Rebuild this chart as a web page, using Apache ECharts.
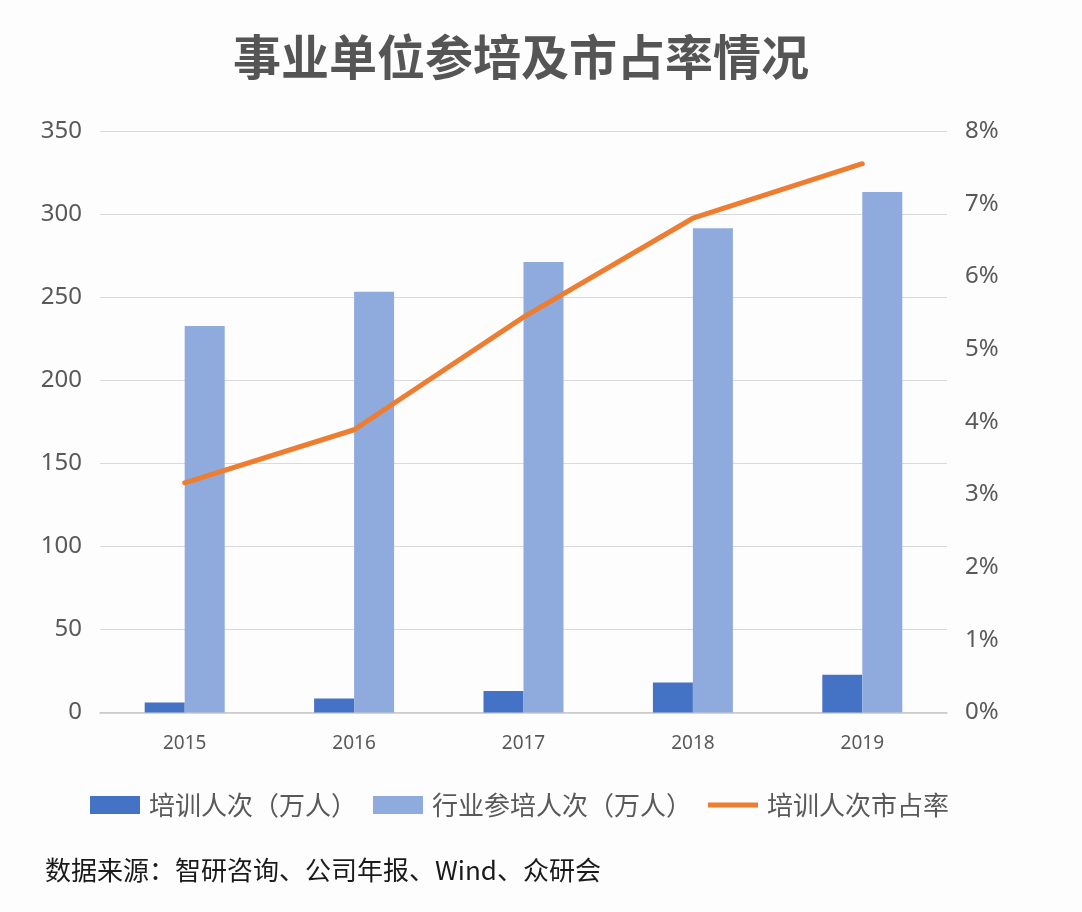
<!DOCTYPE html>
<html>
<head>
<meta charset="utf-8">
<script src="https://cdn.jsdelivr.net/npm/echarts@6/dist/echarts.min.js"></script>
<style>
  html, body { margin: 0; padding: 0; background: #fdfdfe; }
  #chart { width: 1082px; height: 912px; }
</style>
</head>
<body>
<div id="chart"></div>
<script>
const categories = ['2015', '2016', '2017', '2018', '2019'];
const trainees = [6.0, 8.4, 13.0, 18.0, 22.7];
const industryTrainees = [232.7, 253.3, 271.2, 291.5, 313.3];
const marketShare = [3.16, 3.89, 5.44, 6.80, 7.55];
const leftTicks = { min: 0, max: 350, interval: 50 };
const rightTicks = { min: 0, max: 8, interval: 1 };

const titleText = '事业单位参培及市占率情况';
const sourceText = '数据来源：智研咨询、公司年报、Wind、众研会';
const seriesNames = ['培训人次（万人）', '行业参培人次（万人）', '培训人次市占率'];

const fontFamily = '"Noto Sans", "Noto Sans CJK SC", sans-serif';
const cjkFont = '"Noto Sans CJK SC", "Noto Sans", sans-serif';

const chart = echarts.init(document.getElementById('chart'), null, { renderer: 'canvas' });
chart.setOption({
  backgroundColor: '#fdfdfe',
  animation: false,
  title: [{
    text: titleText,
    left: 516,
    top: 28,
    textAlign: 'center',
    textStyle: { fontFamily: cjkFont, fontSize: 48, fontWeight: 'bold', color: '#555555' }
  }, {
    text: sourceText,
    left: 40,
    top: 852,
    textStyle: { fontFamily: cjkFont, fontSize: 26, fontWeight: 'normal', color: '#1a1a1a' }
  }],
  legend: {
    left: 85,
    top: 787,
    itemWidth: 50,
    itemHeight: 18,
    itemGap: 16,
    symbolKeepAspect: true,
    textStyle: { fontFamily: cjkFont, fontSize: 26, color: '#595959', padding: [0, 0, 0, 4] },
    data: [
      { name: seriesNames[0], icon: 'rect' },
      { name: seriesNames[1], icon: 'rect' },
      { name: seriesNames[2], icon: 'path://M0,0 L50,0 L50,5 L0,5 Z' }
    ]
  },
  grid: { left: 100, right: 135, top: 131, bottom: 199.5, containLabel: false },
  xAxis: {
    type: 'category',
    data: categories,
    axisTick: { show: false },
    axisLine: { show: true, lineStyle: { color: '#c8c8c8', width: 1.5 } },
    axisLabel: { fontFamily: fontFamily, fontSize: 19, color: '#595959', margin: 22 }
  },
  yAxis: [{
    type: 'value',
    min: leftTicks.min, max: leftTicks.max, interval: leftTicks.interval,
    axisLine: { show: false },
    axisTick: { show: false },
    splitLine: { lineStyle: { color: '#d9d9d9', width: 1.2 } },
    axisLabel: { fontFamily: fontFamily, fontSize: 24, color: '#595959', margin: 18 }
  }, {
    type: 'value',
    min: rightTicks.min, max: rightTicks.max, interval: rightTicks.interval,
    axisLine: { show: false },
    axisTick: { show: false },
    splitLine: { show: false },
    axisLabel: { fontFamily: fontFamily, fontSize: 24, color: '#595959', margin: 18, formatter: '{value}%' }
  }],
  series: [{
    name: seriesNames[0],
    type: 'bar',
    data: trainees,
    barWidth: 40,
    barGap: '0%',
    itemStyle: { color: '#4472c4' }
  }, {
    name: seriesNames[1],
    type: 'bar',
    data: industryTrainees,
    barWidth: 40,
    barGap: '0%',
    itemStyle: { color: '#8faadc' }
  }, {
    name: seriesNames[2],
    type: 'line',
    yAxisIndex: 1,
    data: marketShare,
    symbol: 'none',
    lineStyle: { color: '#ed7d31', width: 5, cap: 'round', join: 'round' },
    itemStyle: { color: '#ed7d31' }
  }]
});
</script>
</body>
</html>
